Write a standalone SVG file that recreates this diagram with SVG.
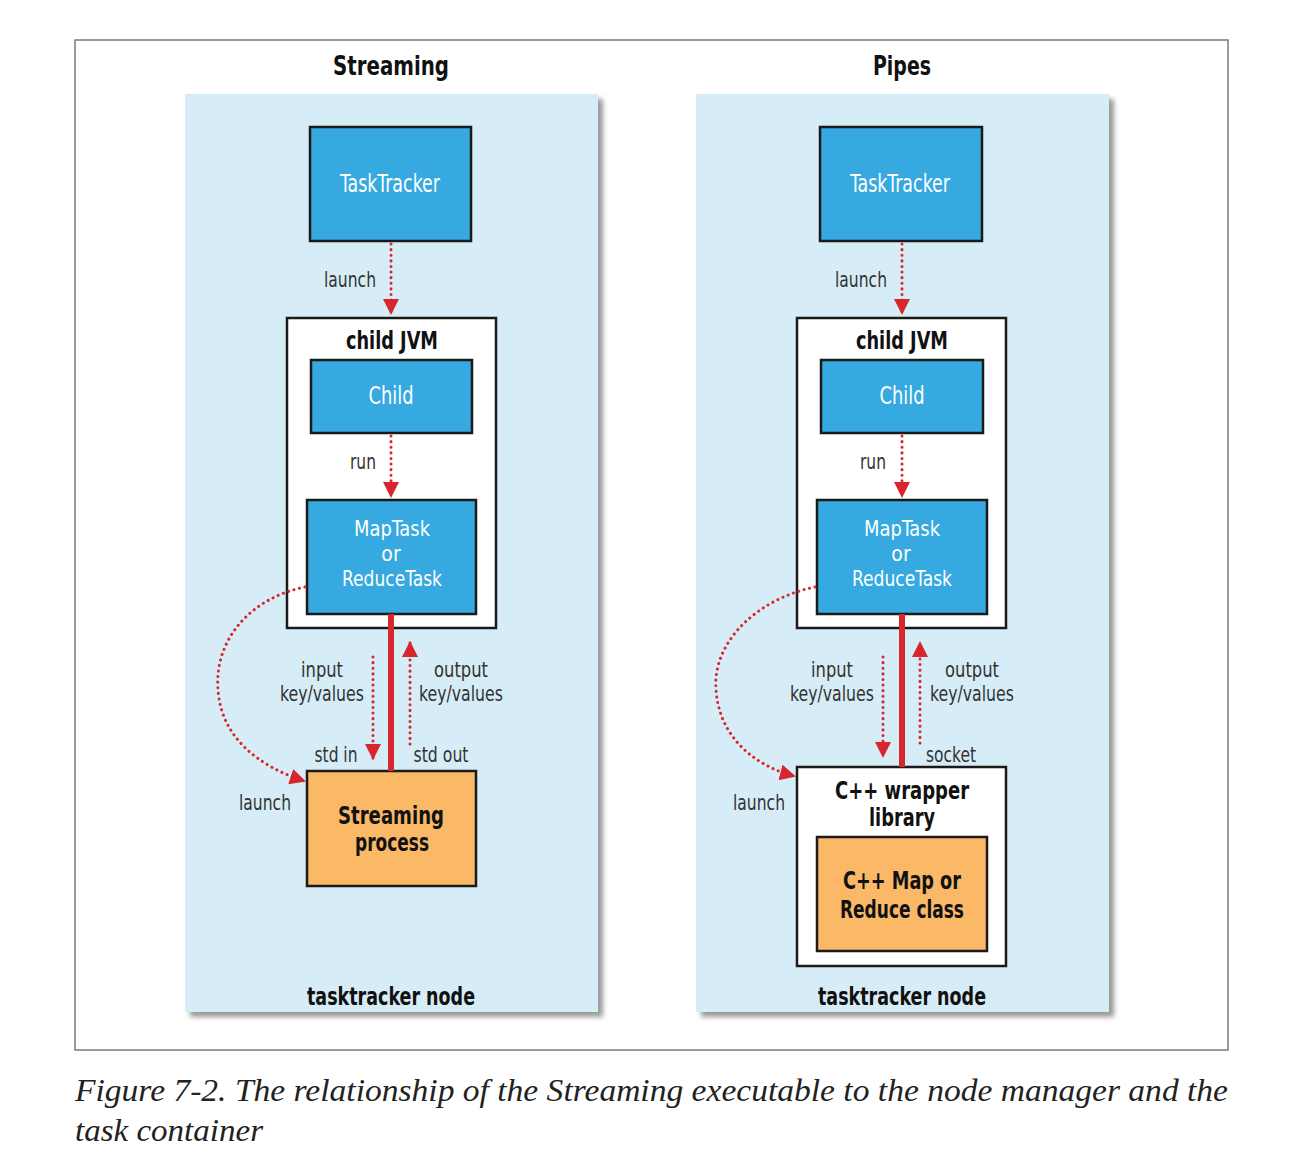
<svg xmlns="http://www.w3.org/2000/svg" width="1290" height="1162" viewBox="0 0 1290 1162">
<style>
.frame{fill:#fff;stroke:#7a7a7a;stroke-width:1.5}
.panel{fill:#d6edf7}
.shadow{fill:#9a9a9a}
.blue{fill:#35a9e0;stroke:#1a1a1a;stroke-width:2.5}
.white{fill:#fff;stroke:#1a1a1a;stroke-width:2.5}
.orange{fill:#fbb867;stroke:#1a1a1a;stroke-width:2.5}
.t{font-family:"DejaVu Sans Condensed","Liberation Sans",sans-serif;text-anchor:middle}
.wt{fill:#fff;font-size:24px}
.ws{fill:#fff;font-size:21px}
.bt{fill:#111;font-size:24px;font-weight:bold}
.lt{fill:#333;font-size:21px}
.title{fill:#111;font-size:27px;font-weight:bold}
.dot{fill:none;stroke:#d7262e;stroke-width:3;stroke-dasharray:0.1 5.5;stroke-linecap:round}
.thick{stroke:#d7262e;stroke-width:6}
.cap{font-family:"Liberation Serif",serif;font-style:italic;font-size:32px;fill:#222}
</style>
<defs>
<marker id="ah" markerUnits="userSpaceOnUse" markerWidth="20" markerHeight="20" refX="14" refY="8" orient="auto">
<path d="M0,0 L16,8 L0,16 Z" fill="#d7262e"/>
</marker>
<filter id="blur" x="-5%" y="-5%" width="110%" height="110%"><feGaussianBlur stdDeviation="2.5"/></filter>
</defs>
<rect class="frame" x="75" y="40" width="1153" height="1010"/>
<text class="t title" x="391" y="75" textLength="116" lengthAdjust="spacingAndGlyphs">Streaming</text>
<text class="t title" x="902" y="75" textLength="58" lengthAdjust="spacingAndGlyphs">Pipes</text>
<g id="panel-left">
<rect class="shadow" x="190" y="99" width="413" height="918" filter="url(#blur)"/>
<rect class="panel" x="185" y="94" width="413" height="918"/>
<text class="t bt" x="391" y="1005" textLength="168" lengthAdjust="spacingAndGlyphs">tasktracker node</text>
</g>
<g id="panel-right">
<rect class="shadow" x="701" y="99" width="413" height="918" filter="url(#blur)"/>
<rect class="panel" x="696" y="94" width="413" height="918"/>
<text class="t bt" x="902" y="1005" textLength="168" lengthAdjust="spacingAndGlyphs">tasktracker node</text>
</g>
<g id="tasktracker-left"><rect class="blue" x="310" y="127" width="161" height="114"/><text class="t wt" x="390" y="192" textLength="100" lengthAdjust="spacingAndGlyphs">TaskTracker</text></g>
<g id="childjvm-left"><rect class="white" x="287" y="318" width="209" height="310"/><text class="t bt" x="392" y="349" textLength="92" lengthAdjust="spacingAndGlyphs">child JVM</text></g>
<g id="child-left"><rect class="blue" x="311" y="360" width="161" height="73"/><text class="t wt" x="391" y="404" textLength="45" lengthAdjust="spacingAndGlyphs">Child</text></g>
<g id="maptask-left"><rect class="blue" x="307" y="500" width="169" height="114"/>
<text class="t ws" x="392" y="536" textLength="76" lengthAdjust="spacingAndGlyphs">MapTask</text>
<text class="t ws" x="391" y="561">or</text>
<text class="t ws" x="392" y="586" textLength="100" lengthAdjust="spacingAndGlyphs">ReduceTask</text></g>
<g id="streaming-process"><rect class="orange" x="307" y="771" width="169" height="115"/>
<text class="t bt" x="391" y="824" textLength="106" lengthAdjust="spacingAndGlyphs">Streaming</text>
<text class="t bt" x="392" y="851" textLength="74" lengthAdjust="spacingAndGlyphs">process</text></g>
<g id="tasktracker-right"><rect class="blue" x="820" y="127" width="162" height="114"/><text class="t wt" x="900" y="192" textLength="100" lengthAdjust="spacingAndGlyphs">TaskTracker</text></g>
<g id="childjvm-right"><rect class="white" x="797" y="318" width="209" height="310"/><text class="t bt" x="902" y="349" textLength="92" lengthAdjust="spacingAndGlyphs">child JVM</text></g>
<g id="child-right"><rect class="blue" x="821" y="360" width="162" height="73"/><text class="t wt" x="902" y="404" textLength="45" lengthAdjust="spacingAndGlyphs">Child</text></g>
<g id="maptask-right"><rect class="blue" x="817" y="500" width="170" height="114"/>
<text class="t ws" x="902" y="536" textLength="76" lengthAdjust="spacingAndGlyphs">MapTask</text>
<text class="t ws" x="901" y="561">or</text>
<text class="t ws" x="902" y="586" textLength="100" lengthAdjust="spacingAndGlyphs">ReduceTask</text></g>
<g id="cpp-wrapper"><rect class="white" x="797" y="767" width="209" height="199"/>
<text class="t bt" x="902" y="799" textLength="134" lengthAdjust="spacingAndGlyphs">C++ wrapper</text>
<text class="t bt" x="902" y="826" textLength="66" lengthAdjust="spacingAndGlyphs">library</text></g>
<g id="cpp-class"><rect class="orange" x="817" y="837" width="170" height="114"/>
<text class="t bt" x="902" y="889" textLength="118" lengthAdjust="spacingAndGlyphs">C++ Map or</text>
<text class="t bt" x="902" y="918" textLength="124" lengthAdjust="spacingAndGlyphs">Reduce class</text></g>
<g id="connectors">
<line class="dot" x1="391" y1="244" x2="391" y2="313" marker-end="url(#ah)"/>
<text class="t lt" x="350" y="287" textLength="52" lengthAdjust="spacingAndGlyphs">launch</text>
<line class="dot" x1="391" y1="436" x2="391" y2="496" marker-end="url(#ah)"/>
<text class="t lt" x="363" y="469" textLength="26" lengthAdjust="spacingAndGlyphs">run</text>
<line class="thick" x1="391" y1="614" x2="391" y2="771"/>
<line class="dot" x1="373" y1="657" x2="373" y2="758" marker-end="url(#ah)"/>
<line class="dot" x1="410" y1="744" x2="410" y2="643" marker-end="url(#ah)"/>
<text class="t lt" x="322" y="677" textLength="42" lengthAdjust="spacingAndGlyphs">input</text>
<text class="t lt" x="322" y="701" textLength="84" lengthAdjust="spacingAndGlyphs">key/values</text>
<text class="t lt" x="461" y="677" textLength="54" lengthAdjust="spacingAndGlyphs">output</text>
<text class="t lt" x="461" y="701" textLength="84" lengthAdjust="spacingAndGlyphs">key/values</text>
<text class="t lt" x="336" y="762" textLength="43" lengthAdjust="spacingAndGlyphs">std in</text>
<text class="t lt" x="441" y="762" textLength="55" lengthAdjust="spacingAndGlyphs">std out</text>
<path class="dot" d="M305,587 C250,598 214,640 218,690 C221,735 255,765 304,781" marker-end="url(#ah)"/>
<text class="t lt" x="265" y="810" textLength="52" lengthAdjust="spacingAndGlyphs">launch</text>
<line class="dot" x1="902" y1="244" x2="902" y2="313" marker-end="url(#ah)"/>
<text class="t lt" x="861" y="287" textLength="52" lengthAdjust="spacingAndGlyphs">launch</text>
<line class="dot" x1="902" y1="436" x2="902" y2="496" marker-end="url(#ah)"/>
<text class="t lt" x="873" y="469" textLength="26" lengthAdjust="spacingAndGlyphs">run</text>
<line class="thick" x1="902" y1="614" x2="902" y2="767"/>
<line class="dot" x1="883" y1="657" x2="883" y2="756" marker-end="url(#ah)"/>
<line class="dot" x1="920" y1="743" x2="920" y2="643" marker-end="url(#ah)"/>
<text class="t lt" x="832" y="677" textLength="42" lengthAdjust="spacingAndGlyphs">input</text>
<text class="t lt" x="832" y="701" textLength="84" lengthAdjust="spacingAndGlyphs">key/values</text>
<text class="t lt" x="972" y="677" textLength="54" lengthAdjust="spacingAndGlyphs">output</text>
<text class="t lt" x="972" y="701" textLength="84" lengthAdjust="spacingAndGlyphs">key/values</text>
<text class="t lt" x="951" y="762" textLength="50" lengthAdjust="spacingAndGlyphs">socket</text>
<path class="dot" d="M815,587 C760,598 712,640 716,690 C719,735 752,765 794,776" marker-end="url(#ah)"/>
<text class="t lt" x="759" y="810" textLength="52" lengthAdjust="spacingAndGlyphs">launch</text>
</g>
<text class="cap" x="75" y="1101" textLength="1153" lengthAdjust="spacingAndGlyphs">Figure 7-2. The relationship of the Streaming executable to the node manager and the</text>
<text class="cap" x="75" y="1141" textLength="188" lengthAdjust="spacingAndGlyphs">task container</text>
</svg>
